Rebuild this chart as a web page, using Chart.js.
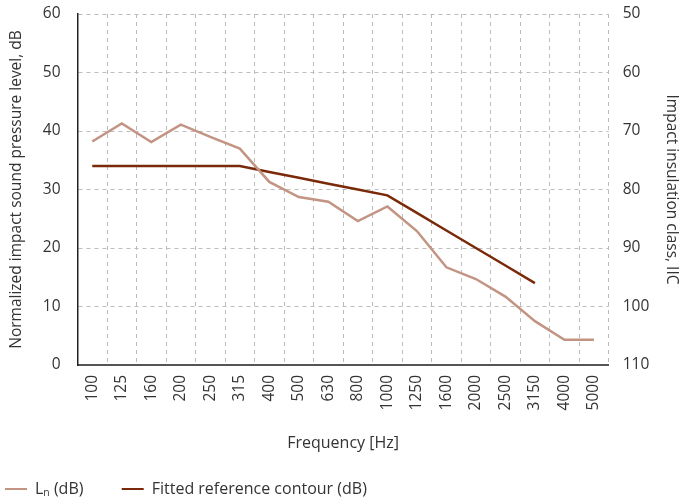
<!DOCTYPE html>
<html>
<head>
<meta charset="utf-8">
<script src="https://cdn.jsdelivr.net/npm/chart.js@4/dist/chart.umd.min.js"></script>
<style>
  html, body { margin: 0; padding: 0; background: #fff; }
  #wrap { width: 681px; height: 503px; position: relative; }
</style>
</head>
<body>
<div id="wrap"><canvas id="myChart" width="681" height="503"></canvas></div>
<script>
// third-octave bands
const frequencies = ['100', '125', '160', '200', '250', '315', '400', '500', '630', '800',
    '1000', '1250', '1600', '2000', '2500', '3150', '4000', '5000']

// measured Ln (dB)
const lnValues = [38.2, 41.3, 38.1, 41.1, 39.0, 37.0, 31.3, 28.7, 27.9, 24.6,
    27.1, 22.9, 16.7, 14.7, 11.7, 7.5, 4.3, 4.3]

// fitted reference contour (dB), stops at 3150
const fittedValues = [34, 34, 34, 34, 34, 34, 33, 32, 31, 30,
    29, 26, 23, 20, 17, 14, null, null]

const leftTicks = [0, 10, 20, 30, 40, 50, 60]
const rightTicks = [50, 60, 70, 80, 90, 100, 110]

const fontFamily = "'Open Sans', sans-serif"
const textColor = '#333'
const gridColor = '#bdbdbd'

Chart.defaults.font.family = fontFamily
Chart.defaults.font.size = 15.5
Chart.defaults.color = textColor

const ctx = document.getElementById('myChart')

const myChart = new Chart(ctx, {
    type: 'line',
    data: {
        labels: frequencies,
        datasets: [{
            label: 'Lₙ (dB)',
            data: lnValues,
            borderColor: '#c39483',
            backgroundColor: '#c39483',
            borderWidth: 2.5,
            pointRadius: 0,
            tension: 0,
            yAxisID: 'y'
        }, {
            label: 'Fitted reference contour (dB)',
            data: fittedValues,
            borderColor: '#7a2a08',
            backgroundColor: '#7a2a08',
            borderWidth: 2.5,
            pointRadius: 0,
            tension: 0,
            spanGaps: false,
            yAxisID: 'y'
        }]
    },
    options: {
        responsive: false,
        animation: false,
        layout: {
            padding: { top: 14, left: 0, right: 0, bottom: -4 }
        },
        scales: {
            x: {
                offset: true,
                grid: {
                    offset: true,
                    color: gridColor,
                    drawTicks: false,
                },
                border: {
                    display: true,
                    color: '#555',
                    width: 2,
                    dash: [4, 4],
                },
                ticks: {
                    minRotation: 90,
                    maxRotation: 90,
                    padding: 10,
                    autoSkip: false,
                    color: textColor,
                },
                title: {
                    display: true,
                    text: 'Frequency [Hz]',
                    color: textColor,
                    font: { size: 16 },
                    padding: { top: 14, bottom: 23 },
                },
                afterFit: function(scale) {
                    scale.height = 111
                }
            },
            y: {
                position: 'left',
                min: 0,
                max: 60,
                afterBuildTicks: function(scale) {
                    scale.ticks = leftTicks.map(v => ({ value: v }))
                },
                grid: {
                    color: gridColor,
                    drawTicks: true,
                    tickLength: 14,
                    tickColor: 'rgba(0,0,0,0)',
                },
                border: {
                    display: true,
                    color: '#222',
                    width: 1.5,
                    dash: [4, 4],
                },
                ticks: {
                    padding: 3,
                    color: textColor,
                },
                title: {
                    display: true,
                    text: 'Normalized impact sound pressure level, dB',
                    color: textColor,
                    padding: { top: 7, bottom: 0 },
                },
                afterFit: function(scale) {
                    scale.width = 77.5
                }
            },
            y2: {
                position: 'right',
                reverse: true,
                min: 50,
                max: 110,
                afterBuildTicks: function(scale) {
                    scale.ticks = rightTicks.map(v => ({ value: v }))
                },
                grid: {
                    display: true,
                    drawOnChartArea: false,
                    drawTicks: true,
                    tickLength: 11,
                    tickColor: 'rgba(0,0,0,0)',
                },
                border: {
                    display: false,
                },
                ticks: {
                    padding: 3,
                    color: textColor,
                },
                title: {
                    display: true,
                    text: 'Impact insulation class, IIC',
                    color: textColor,
                    padding: { top: 0, bottom: 0 },
                },
                afterFit: function(scale) {
                    scale.width = 72.3
                }
            }
        },
        plugins: {
            legend: {
                display: true,
                position: 'bottom',
                align: 'start',
                labels: {
                    boxWidth: 22,
                    boxHeight: 2,
                    padding: 5,
                    color: textColor,
                    font: { size: 16 },
                    generateLabels: function(chart) {
                        const items = Chart.defaults.plugins.legend.labels.generateLabels(chart)
                        items.forEach(item => {
                            item.lineWidth = 0
                            item.fillStyle = item.strokeStyle
                        })
                        // wider gap after the first item, as in the reference
                        items[0].text = items[0].text + '        '
                        return items
                    }
                }
            },
            tooltip: { enabled: false }
        }
    }
});
</script>
</body>
</html>
